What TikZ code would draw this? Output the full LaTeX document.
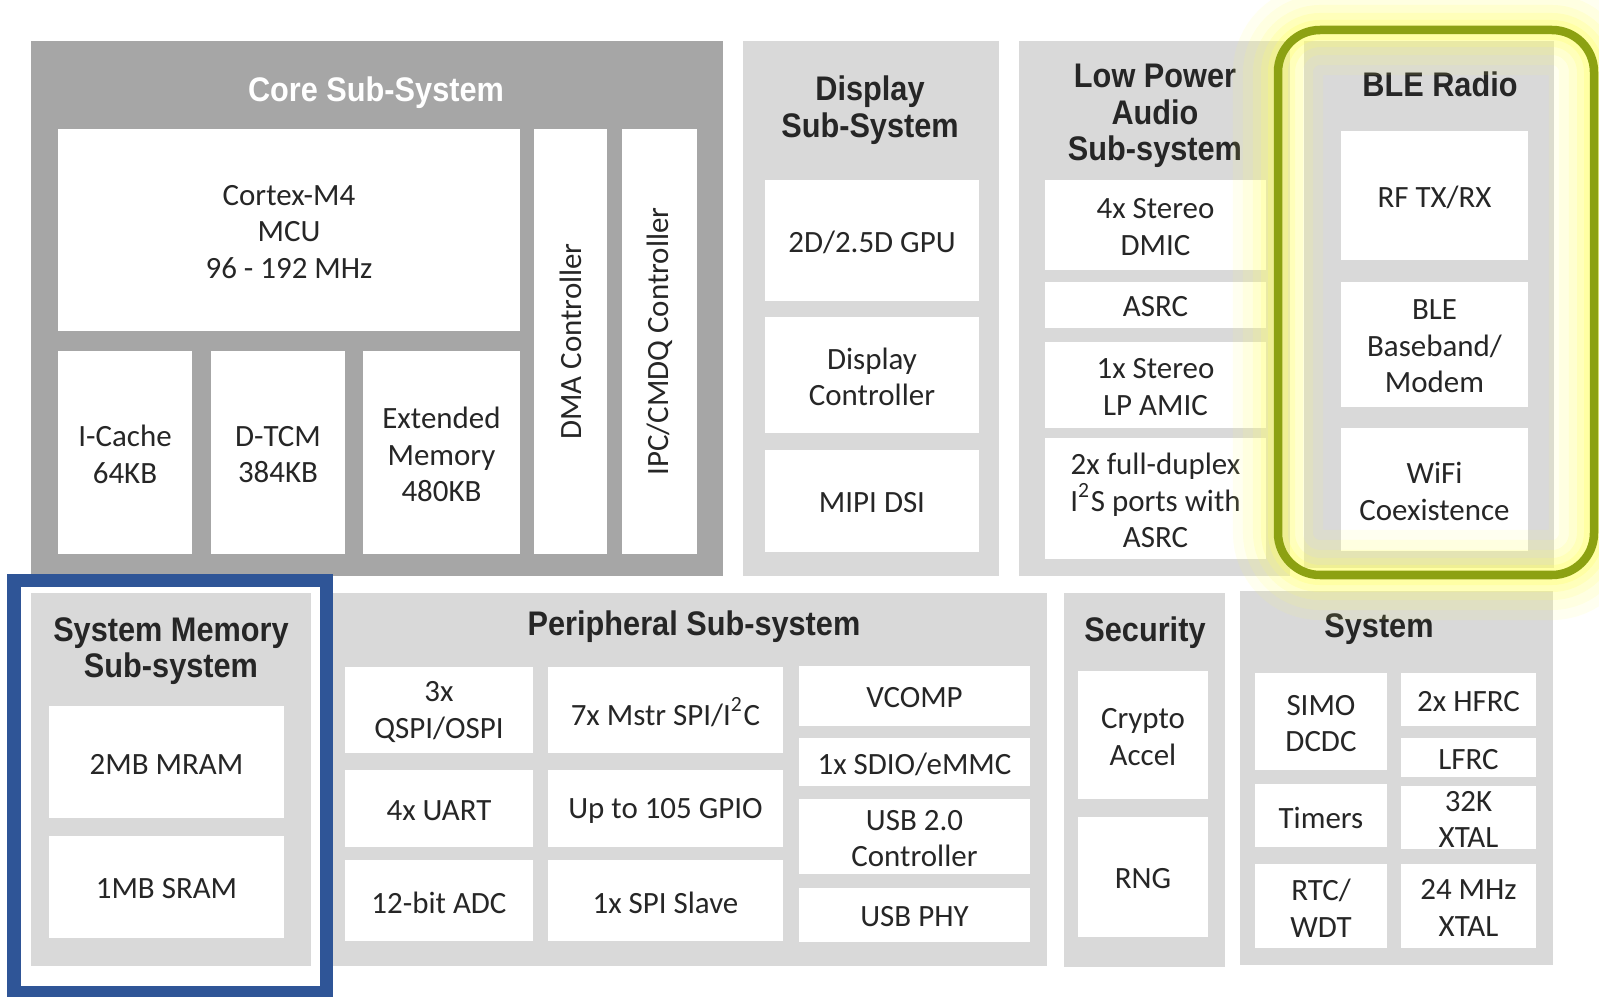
\documentclass[tikz,border=0pt]{standalone}
\usepackage{fontspec}
\setmainfont{Carlito}
\newfontfamily\ttlfont[FakeStretch=0.9]{Liberation Sans}
\usepackage{tikz}
\definecolor{coregray}{HTML}{A6A6A6}
\definecolor{subgray}{HTML}{D9D9D9}
\definecolor{memblue}{HTML}{2F5597}
\definecolor{blegreen}{HTML}{8CA112}
\definecolor{bleglow}{HTML}{FFFF70}
\definecolor{ink}{HTML}{262626}
\tikzset{
  group/.style={
    fill=subgray,
    inner sep = 0pt
  },
  block/.style={
    fill=white,
    inner sep = 0pt
  },
  blocktext/.style={
    align=center,
    text=ink,
    inner sep = 0pt,
    font=\fontsize{8.8}{10.4}\selectfont
  },
  heading/.style={
    align=center,
    text=ink,
    inner sep = 0pt,
    font=\ttlfont\bfseries\fontsize{9.7}{10.4}\selectfont
  },
  every picture/.style = {
    x=0.01cm,
    y=-0.01cm
  }
}

\begin{document}
\begin{tikzpicture}
        \useasboundingbox (0,0) rectangle (1599,997);
        \clip (0,0) rectangle (1599,997);
        \node[group, fill=coregray, minimum width=6.92cm, minimum height=5.35cm] (core) at (377,308.5) {};
        \foreach \n/\xa/\ya/\xb/\yb in {disp/743/41/999/576, audio/1019/41/1290/576, ble/1304/41/1554/568,
                sysmem/31/593/311/966, periph/333/593/1047/966, secur/1064/593/1225/967, system/1240/591/1553/965}{
                \node[group, minimum width={(\xb-\xa)*0.01cm}, minimum height={(\yb-\ya)*0.01cm}] (\n) at ({(\xa+\xb)/2},{(\ya+\yb)/2}) {};
            }
        \foreach \n/\xa/\ya/\xb/\yb/\t in {
                cpu/58/129/520/331/{Cortex-M4\\MCU\\96 - 192 MHz},
                icache/58/351/192/554/{I-Cache\\64KB},
                dtcm/211/351/345/554/{D-TCM\\384KB},
                extmem/363/351/520/554/{Extended\\Memory\\480KB},
                dma/534/129/607/554/{},
                ipc/622/129/697/554/{},
                gpu/765/180/979/301/{2D/2.5D GPU},
                dispctl/765/317/979/433/{Display\\Controller},
                mipi/765/450/979/552/{MIPI DSI},
                dmic/1045/180/1266/270/{4x Stereo\\DMIC},
                asrc/1045/282/1266/328/{ASRC},
                amic/1045/342/1266/428/{1x Stereo\\LP AMIC},
                itwos/1045/438/1266/559/{2x full-duplex\\I\textsuperscript{2}S ports with\\ASRC},
                rf/1341/131/1528/260/{RF TX/RX},
                baseband/1341/282/1528/407/{BLE\\Baseband/\\Modem},
                coex/1341/428/1528/551/{WiFi\\Coexistence},
                mram/49/706/284/818/{2MB MRAM},
                sram/49/836/284/938/{1MB SRAM},
                qspi/345/667/533/753/{3x\\QSPI/OSPI},
                mspi/548/667/783/753/{7x Mstr SPI/I\textsuperscript{2}C},
                uart/345/770/533/847/{4x UART},
                gpio/548/770/783/847/{Up to 105 GPIO},
                adc/345/860/533/941/{12-bit ADC},
                spis/548/860/783/941/{1x SPI Slave},
                vcomp/799/666/1030/726/{VCOMP},
                sdio/799/738/1030/786/{1x SDIO/eMMC},
                usbctl/799/799/1030/874/{USB 2.0\\Controller},
                usbphy/799/888/1030/942/{USB PHY},
                crypto/1078/671/1208/799/{Crypto\\Accel},
                rng/1078/817/1208/937/{RNG},
                simo/1255/673/1387/770/{SIMO\\DCDC},
                hfrc/1401/673/1536/726/{2x HFRC},
                lfrc/1401/738/1536/777/{LFRC},
                timers/1255/784/1387/847/{Timers},
                xtalk/1401/786/1536/849/{32K\\XTAL},
                rtc/1255/864/1387/948/{RTC/\\WDT},
                xtalm/1401/864/1536/948/{24 MHz\\XTAL}}{
                \node[block, minimum width={(\xb-\xa)*0.01cm}, minimum height={(\yb-\ya)*0.01cm},
                        label={[blocktext, yshift=-0.02cm]center:{\t}}] (\n) at ({(\xa+\xb)/2},{(\ya+\yb)/2}) {};
            }
        \node[blocktext, rotate=90] (dmatext) at (dma.center) {DMA Controller};
        \node[blocktext, rotate=90] (ipctext) at (ipc.center) {IPC/CMDQ Controller};
        \node[heading, text=white] (coretitle) at (376,93) {Core Sub-System};
        \foreach \n/\px/\py/\t in {disptitle/870/110/{Display\\Sub-System}, audiotitle/1155/116/{Low Power\\Audio\\Sub-system},
                bletitle/1440/84/{BLE Radio}, memtitle/171/651/{System Memory\\Sub-system}, pertitle/694/627/{Peripheral Sub-system},
                sectitle/1145/633/{Security}, systitle/1379/629/{System}}{
                \node[heading] (\n) at (\px,\py) {\t};
            }
        \foreach \w/\o in {0.9/0.10, 0.7/0.12, 0.5/0.16, 0.34/0.22, 0.2/0.3}{
                \draw[bleglow, line width=\w cm, opacity=\o, rounded corners=0.42cm] (1278,30) rectangle (1594,575);
            }
        \draw[blegreen, line width=0.085cm, rounded corners=0.42cm] (1278,30) rectangle (1594,575);
        \draw[memblue, line width=0.13cm] (14,580.5) rectangle (326.5,993);
\end{tikzpicture}
\end{document}
